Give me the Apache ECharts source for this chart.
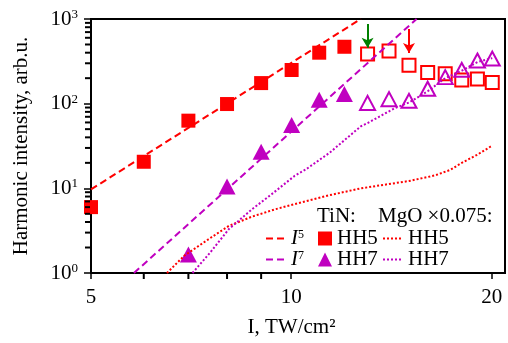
<!DOCTYPE html>
<html>
<head>
<meta charset="utf-8">
<script src="https://cdn.jsdelivr.net/npm/echarts@6/dist/echarts.min.js"></script>
<style>
html, body { margin: 0; padding: 0; background: #fff; }
#chart { width: 508px; height: 343px; }
</style>
</head>
<body>
<div id="chart"></div>
<script>
var font = 'Liberation Serif';
var red = '#ff0000';
var mag = '#c000c0';

// TiN, filled symbols
var tinX5a = [5, 6, 7, 8, 9, 10, 11, 12];
var tinHH5a = [6, 20.6, 63, 99, 175, 250, 400, 470];
var tinX7a = [7, 8, 9, 10, 11, 12];
var tinHH7a = [1.65, 10.5, 27, 56, 111, 130];
// TiN, open symbols
var tinXb = [13, 14, 15, 16, 17, 18, 19, 20];
var tinHH5b = [385, 420, 285, 233, 225, 190, 195, 178];
var tinHH7b = [102, 113, 108, 150, 206, 251, 323, 341];
// MgO x0.075 curves
var mgoX5 = [6.5, 6.9, 7.5, 8.05, 8.7, 9.45, 10.1, 11.4, 12.7, 15.0, 16.4, 17.3, 18.0, 19.0, 20.0];
var mgoHH5 = [1, 1.6, 2.5, 3.6, 4.6, 5.66, 6.5, 8.3, 10, 12.2, 14.2, 16.5, 20, 25, 32];
var mgoX7 = [7.1, 7.55, 8.05, 8.72, 9.33, 10.1, 10.5, 11.4, 12.7, 13.0, 14.3, 15, 16, 17, 18, 19, 20];
var mgoHH7 = [1, 1.75, 3.3, 5.66, 8.5, 14, 16.7, 26.3, 54, 59, 89, 103, 140, 200, 245, 310, 345];
// power law guides (end points)
var i5X = [5, 12.7];
var i5Y = [9.7, 1000];
var i7X = [5.8, 15.4];
var i7Y = [1, 1000];
// arrows: x, top, tip
var arrowGreen = [13, 873, 456];
var arrowRed = [15, 762, 398];
// minor ticks
var xMinor = [6, 7, 8, 9];
var yMinor = [2, 3, 4, 5, 6, 7, 8, 9, 20, 30, 40, 50, 60, 70, 80, 90, 200, 300, 400, 500, 600, 700, 800, 900];

function pairs(xs, ys) {
    return xs.map(function (x, i) { return [x, ys[i]]; });
}

var txt = { fontFamily: font, fontSize: 21, color: '#000' };

var chart = echarts.init(document.getElementById('chart'));
chart.setOption(
    option = {
        animation: false,
        backgroundColor: '#fff',
        grid: {
            left: 91, right: 3, top: 19, bottom: 69,
            show: true, borderColor: '#000', borderWidth: 2
        },
        xAxis: {
            type: 'log',
            logBase: 2,
            min: 5,
            max: 20.9,
            interval: 1,
            name: 'I, TW/cm²',
            nameLocation: 'middle',
            nameGap: 44,
            nameTextStyle: { fontFamily: font, fontSize: 21, color: '#000', padding: [0, 13, 0, 0] },
            axisLine: { lineStyle: { color: '#000', width: 2 } },
            axisTick: { length: 6, lineStyle: { color: '#000', width: 1.5 } },
            axisLabel: {
                fontFamily: font, fontSize: 21, color: '#000', margin: 14,
                showMaxLabel: false,
                formatter: function (v) { return Math.round(v); }
            },
            splitLine: { show: false }
        },
        yAxis: {
            type: 'log',
            logBase: 10,
            min: 1,
            max: 1000,
            name: 'Harmonic intensity, arb.u.',
            nameLocation: 'middle',
            nameGap: 59,
            nameTextStyle: txt,
            axisLine: { lineStyle: { color: '#000', width: 2 } },
            axisTick: { length: 7, lineStyle: { color: '#000', width: 1.5 } },
            axisLabel: {
                margin: 13,
                formatter: function (v) {
                    return '{b|10}{e|' + Math.round(Math.log10(v)) + '}';
                },
                rich: {
                    b: { fontFamily: font, fontSize: 21, color: '#000', lineHeight: 22 },
                    e: { fontFamily: font, fontSize: 13, color: '#000', verticalAlign: 'top', lineHeight: 13 }
                }
            },
            splitLine: { show: false }
        },
        legend: [{
            data: ['I5', 'I7'],
            orient: 'vertical',
            left: 265, top: 228,
            padding: 0, itemGap: 0,
            itemWidth: 20, itemHeight: 10,
            itemStyle: { opacity: 0 },
            lineStyle: { width: 2, type: [7, 4] },
            formatter: function (n) {
                return '{i|I}{s|' + n.charAt(1) + '}';
            },
            textStyle: {
                rich: {
                    i: { fontFamily: font, fontSize: 21, fontStyle: 'italic', color: '#000', lineHeight: 20 },
                    s: { fontFamily: font, fontSize: 12, color: '#000', verticalAlign: 'top', lineHeight: 12 }
                }
            }
        }, {
            data: ['TiN HH5', 'TiN HH7'],
            orient: 'vertical',
            left: 318, top: 228,
            padding: 0, itemGap: 0,
            itemWidth: 14, itemHeight: 14,
            formatter: function (n) { return n.replace('TiN ', ''); },
            textStyle: { fontFamily: font, fontSize: 21, color: '#000', lineHeight: 20 }
        }, {
            data: ['MgO HH5', 'MgO HH7'],
            orient: 'vertical',
            left: 382, top: 228,
            padding: 0, itemGap: 0,
            itemWidth: 20, itemHeight: 10,
            itemStyle: { opacity: 0 },
            lineStyle: { width: 2, type: [2, 2] },
            formatter: function (n) { return n.replace('MgO ', ''); },
            textStyle: { fontFamily: font, fontSize: 21, color: '#000', lineHeight: 20 }
        }],
        graphic: [
            { type: 'text', left: 317, top: 206, style: { text: 'TiN:', font: '21px "Liberation Serif"', fill: '#000' } },
            { type: 'text', left: 378, top: 206, style: { text: 'MgO ×0.075:', font: '21px "Liberation Serif"', fill: '#000' } }
        ],
        series: [
            {
                name: 'I5', type: 'line', symbol: 'none',
                data: pairs(i5X, i5Y),
                itemStyle: { color: red },
                lineStyle: { color: red, width: 2, type: [7, 4] }
            },
            {
                name: 'I7', type: 'line', symbol: 'none',
                data: pairs(i7X, i7Y),
                itemStyle: { color: mag },
                lineStyle: { color: mag, width: 2, type: [7, 4] }
            },
            {
                name: 'MgO HH5', type: 'line', symbol: 'none',
                data: pairs(mgoX5, mgoHH5),
                itemStyle: { color: red },
                lineStyle: { color: red, width: 2, type: [2, 2] }
            },
            {
                name: 'MgO HH7', type: 'line', symbol: 'none',
                data: pairs(mgoX7, mgoHH7),
                itemStyle: { color: mag },
                lineStyle: { color: mag, width: 2, type: [2, 2] }
            },
            {
                name: 'TiN HH5', type: 'scatter', symbol: 'rect', symbolSize: 14,
                data: pairs(tinX5a, tinHH5a),
                itemStyle: { color: red, opacity: 1 }
            },
            {
                name: 'TiN HH7', type: 'scatter', symbol: 'triangle', symbolSize: [17, 16],
                data: pairs(tinX7a, tinHH7a),
                itemStyle: { color: mag, opacity: 1 }
            },
            {
                name: 'TiN HH5 open', type: 'scatter', symbol: 'rect', symbolSize: 13,
                data: pairs(tinXb, tinHH5b),
                itemStyle: { color: 'rgba(255,255,255,0)', borderColor: red, borderWidth: 2, opacity: 1 },
                markLine: {
                    silent: true,
                    symbol: ['none', 'arrow'],
                    symbolSize: [9, 10],
                    label: { show: false },
                    data: [
                        [{ coord: [arrowGreen[0], arrowGreen[1]], lineStyle: { color: '#008000', width: 2, type: 'solid' } },
                         { coord: [arrowGreen[0], arrowGreen[2]] }],
                        [{ coord: [arrowRed[0], arrowRed[1]], lineStyle: { color: red, width: 2, type: 'solid' } },
                         { coord: [arrowRed[0], arrowRed[2]] }]
                    ]
                }
            },
            {
                name: 'TiN HH7 open', type: 'scatter', symbol: 'triangle', symbolSize: [15, 14],
                data: pairs(tinXb, tinHH7b),
                itemStyle: { color: 'rgba(255,255,255,0)', borderColor: mag, borderWidth: 2, opacity: 1 }
            },
            {
                name: 'x minor', type: 'scatter', silent: true, clip: false, z: 10,
                symbol: 'rect', symbolSize: [2, 5], symbolOffset: [0, 3.5],
                data: xMinor.map(function (x) { return [x, 1]; }),
                itemStyle: { color: '#000', opacity: 1 }
            },
            {
                name: 'y minor', type: 'scatter', silent: true, clip: false, z: 10,
                symbol: 'rect', symbolSize: [5, 2], symbolOffset: [-3.5, 0],
                data: yMinor.map(function (y) { return [5, y]; }),
                itemStyle: { color: '#000', opacity: 1 }
            }
        ]
    }
);
</script>
</body>
</html>
